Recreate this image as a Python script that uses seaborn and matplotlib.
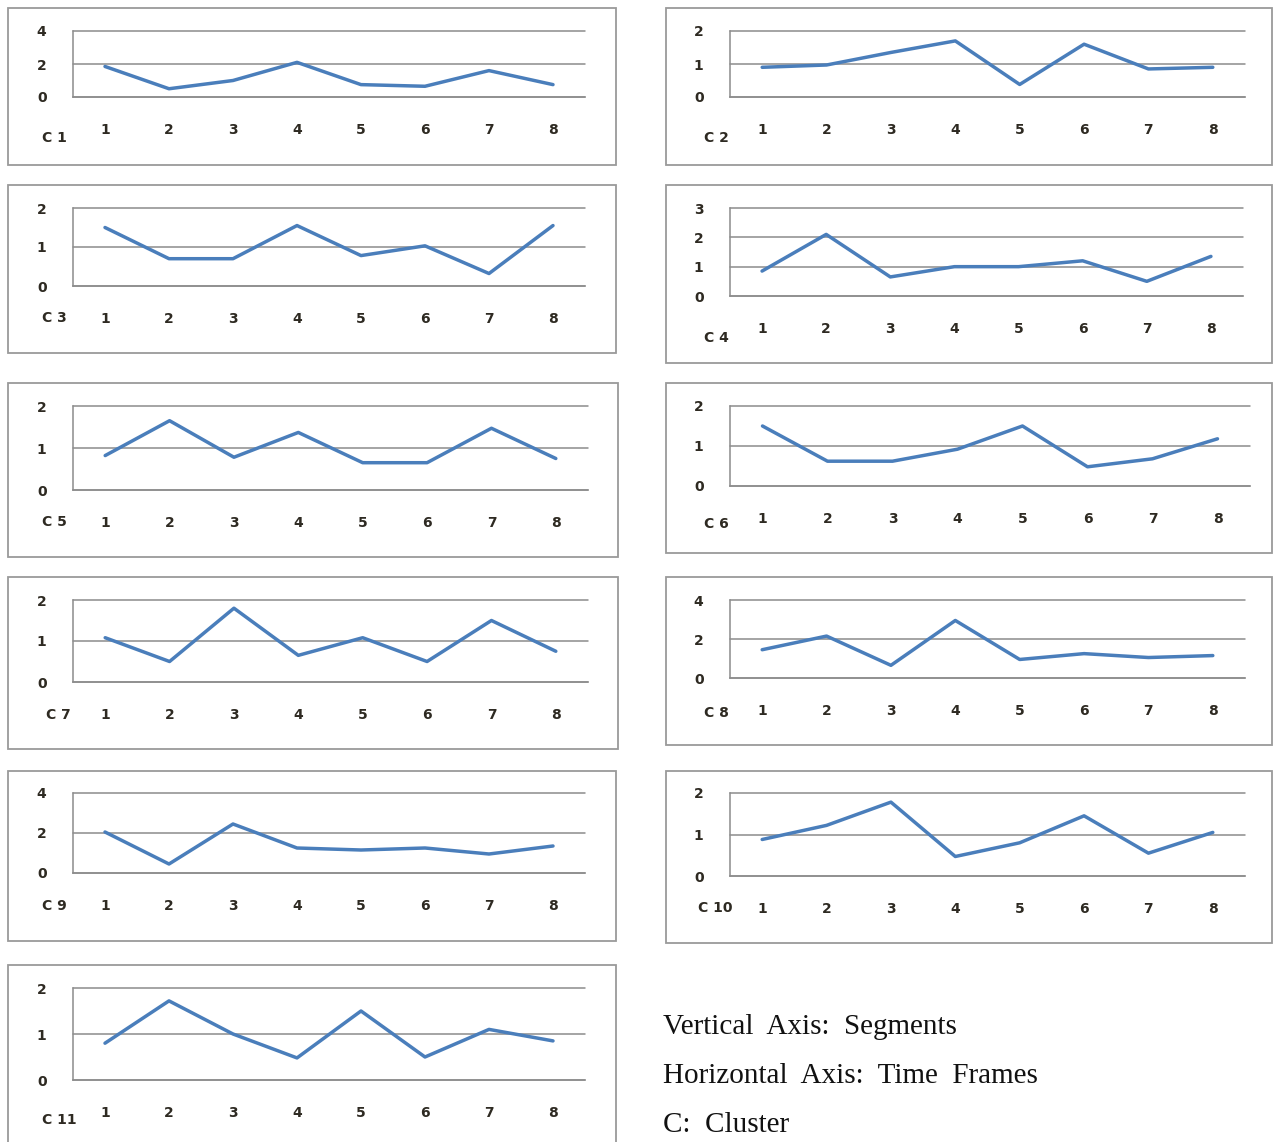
import matplotlib
matplotlib.use("Agg")
import matplotlib.pyplot as plt
from matplotlib.patches import Rectangle
from matplotlib.ticker import FixedLocator
import seaborn as sns

W, H = 1273, 1142
TIME = [1, 2, 3, 4, 5, 6, 7, 8]
TIME_LABELS = ["1", "2", "3", "4", "5", "6", "7", "8"]

C1 = [1.85, 0.5, 1.0, 2.1, 0.75, 0.65, 1.6, 0.75]
C2 = [0.9, 0.97, 1.35, 1.7, 0.38, 1.6, 0.85, 0.9]
C3 = [1.5, 0.7, 0.7, 1.55, 0.78, 1.03, 0.32, 1.55]
C4 = [0.85, 2.1, 0.65, 1.0, 1.0, 1.2, 0.5, 1.35]
C5 = [0.82, 1.65, 0.78, 1.37, 0.65, 0.65, 1.47, 0.75]
C6 = [1.5, 0.62, 0.62, 0.92, 1.5, 0.48, 0.68, 1.18]
C7 = [1.08, 0.5, 1.8, 0.65, 1.08, 0.5, 1.5, 0.75]
C8 = [1.45, 2.15, 0.65, 2.95, 0.95, 1.25, 1.05, 1.15]
C9 = [2.05, 0.45, 2.45, 1.25, 1.15, 1.25, 0.95, 1.35]
C10 = [0.88, 1.22, 1.78, 0.47, 0.8, 1.45, 0.55, 1.05]
C11 = [0.8, 1.72, 1.0, 0.48, 1.5, 0.5, 1.1, 0.85]

CLUSTERS = ["C 1", "C 2", "C 3", "C 4", "C 5", "C 6", "C 7", "C 8", "C 9", "C 10", "C 11"]
SERIES = [C1, C2, C3, C4, C5, C6, C7, C8, C9, C10, C11]
YTICKS = [[0, 2, 4], [0, 1, 2], [0, 1, 2], [0, 1, 2, 3], [0, 1, 2], [0, 1, 2],
          [0, 1, 2], [0, 2, 4], [0, 2, 4], [0, 1, 2], [0, 1, 2]]
NOTES = ["Vertical  Axis:  Segments", "Horizontal  Axis:  Time  Frames", "C:  Cluster"]

# pixel layout: box (x0, y0, x1, y1), plot area (x0, y0, x1, y1), cluster label (x, y)
BOXES = [(8, 8, 616, 165), (666, 8, 1272, 165), (8, 185, 616, 353), (666, 185, 1272, 363),
         (8, 383, 618, 557), (666, 383, 1272, 553), (8, 577, 618, 749), (666, 577, 1272, 745),
         (8, 771, 616, 941), (666, 771, 1272, 943), (8, 965, 616, 1150)]
AREAS = [(73, 31, 585, 97), (730, 31, 1245, 97), (73, 208, 585, 286), (730, 208, 1243, 296),
         (73, 406, 588, 490), (730, 406, 1250, 486), (73, 600, 588, 682), (730, 600, 1245, 678),
         (73, 793, 585, 873), (730, 793, 1245, 876), (73, 988, 585, 1080)]
LABEL_POS = [(42, 138), (704, 138), (42, 318), (704, 338), (42, 522), (704, 524),
             (46, 715), (704, 713), (42, 906), (698, 908), (42, 1120)]

BLUE = "#4a7ebb"
GREY = "#8c8c8c"
TXT = "#2e2a22"

sns.set_style("white")
plt.rcParams["font.family"] = ["DejaVu Sans"]

fig = plt.figure(figsize=(W / 100, H / 100), dpi=100)


def fx(x):
    return x / W


def fy(y):
    return 1 - y / H


for i, (name, vals, yt) in enumerate(zip(CLUSTERS, SERIES, YTICKS)):
    bx0, by0, bx1, by1 = BOXES[i]
    fig.patches.append(Rectangle((fx(bx0), fy(by1)), fx(bx1 - bx0), (by1 - by0) / H,
                                 transform=fig.transFigure, fill=False,
                                 edgecolor="#9a9a9a", linewidth=1.3))
    ax0, ay0, ax1, ay1 = AREAS[i]
    ax = fig.add_axes([fx(ax0), fy(ay1), (ax1 - ax0) / W, (ay1 - ay0) / H])
    ax.set_facecolor("none")
    sns.lineplot(x=TIME, y=vals, ax=ax, color=BLUE, linewidth=2.5)
    ax.set_xlim(0.5, 8.5)
    ax.set_ylim(0, yt[-1])
    ax.set_yticks(yt)
    ax.set_xticks(TIME)
    ax.set_xticklabels(TIME_LABELS)
    ax.xaxis.set_minor_locator(FixedLocator([t + 0.5 for t in [0] + TIME]))
    ax.yaxis.grid(True, color=GREY, linewidth=1.1)
    for gl in ax.yaxis.get_gridlines():
        gl.set_clip_on(False)
    for s in ["top", "right"]:
        ax.spines[s].set_visible(False)
    for s in ["left", "bottom"]:
        ax.spines[s].set_color(GREY)
        ax.spines[s].set_linewidth(1.1)
    ax.tick_params(axis="x", which="major", length=0, pad=19, labelsize=10, labelcolor=TXT)
    ax.tick_params(axis="x", which="minor", length=0 if i == 0 else 5, width=1.1,
                   color=GREY, direction="out")
    ax.tick_params(axis="y", length=5, width=1.1, color=GREY, pad=14,
                   labelsize=10, labelcolor=TXT)
    for lab in ax.get_xticklabels() + ax.get_yticklabels():
        lab.set_fontweight("bold")
    ax.set_xlabel("")
    ax.set_ylabel("")
    lx, ly = LABEL_POS[i]
    fig.text(fx(lx), fy(ly), name, ha="left", va="center", fontsize=10,
             fontweight="bold", color=TXT)

for k, (note, y) in enumerate(zip(NOTES, [1027, 1076, 1125])):
    fig.text(fx(663), fy(y), note, ha="left", va="center", fontsize=21,
             family=["Liberation Serif"], color="#111111")

fig.savefig("out.png", dpi=100)
